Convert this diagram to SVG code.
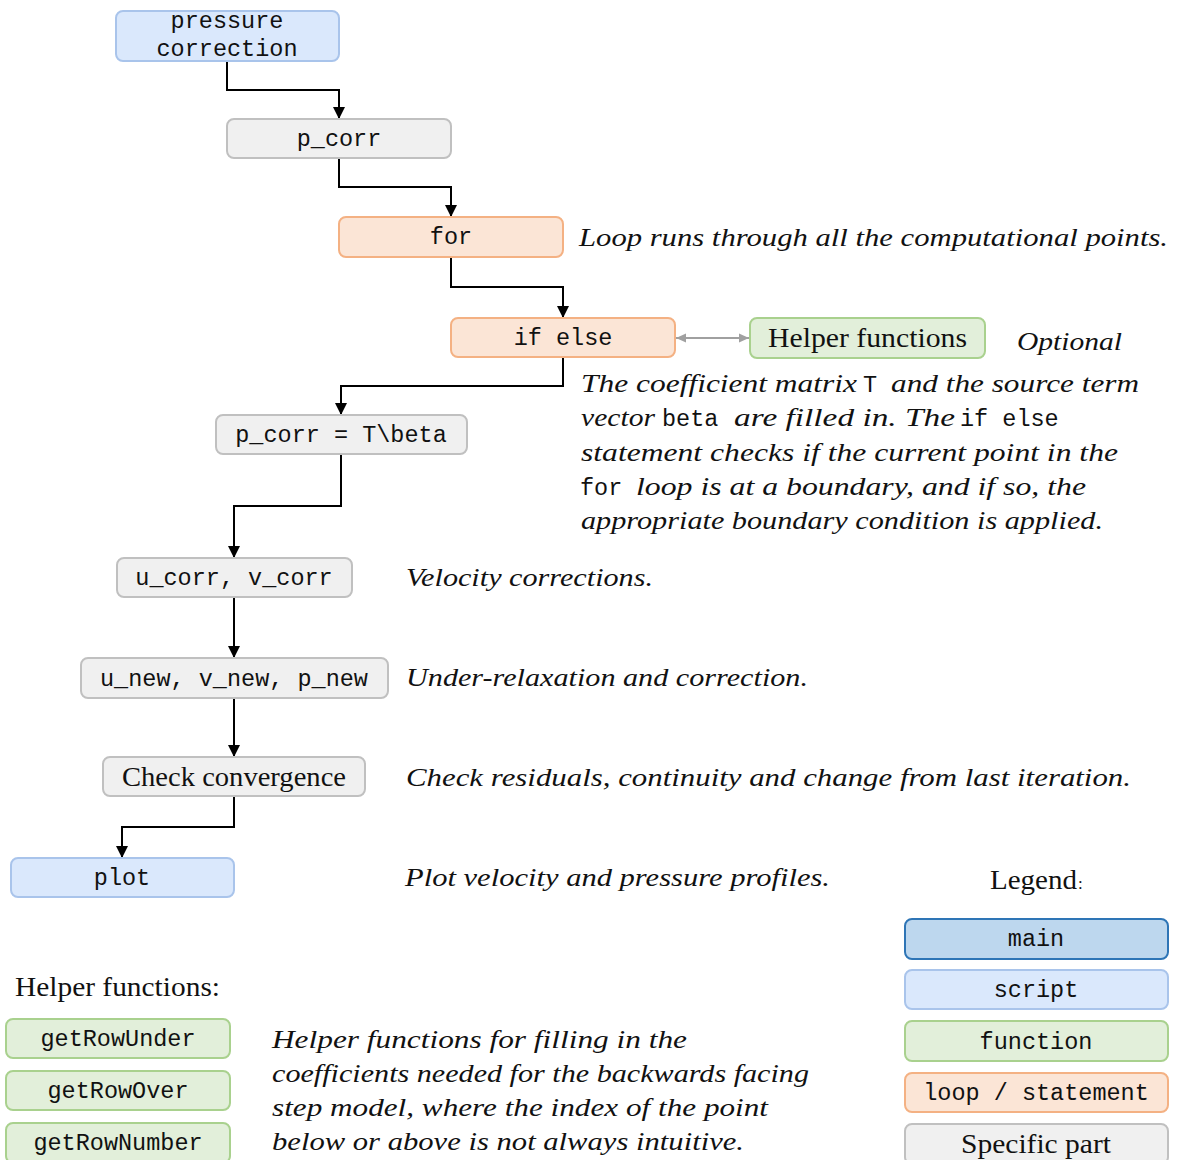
<svg xmlns="http://www.w3.org/2000/svg" width="1178" height="1160" viewBox="0 0 1178 1160">
<defs>
<marker id="ah" markerUnits="userSpaceOnUse" markerWidth="14" markerHeight="14" refX="12" refY="7" orient="auto"><path d="M0,1 L12,7 L0,13 z" fill="#000"/></marker>
<marker id="ag" markerUnits="userSpaceOnUse" markerWidth="12" markerHeight="12" refX="11" refY="6" orient="auto-start-reverse"><path d="M1,1.5 L11,6 L1,10.5 z" fill="#a0a0a0"/></marker>
<style>
.script{fill:#dae8fc;stroke:#a9c4eb;stroke-width:2}
.main{fill:#bdd7ee;stroke:#2e75b6;stroke-width:2}
.func{fill:#e2efda;stroke:#a9d18e;stroke-width:2}
.loop{fill:#fbe5d6;stroke:#f4b183;stroke-width:2}
.spec{fill:#f0f0f0;stroke:#c0c0c0;stroke-width:2}
.mono{font-family:"Liberation Mono","Courier New",monospace;font-size:23.5px;fill:#111}
.ser{font-family:"Liberation Serif","Times New Roman",serif;font-size:27px;fill:#111}
.it{font-family:"Liberation Serif","Times New Roman",serif;font-style:italic;font-size:26px;fill:#111}
.c{text-anchor:middle}
.conn{fill:none;stroke:#000;stroke-width:2;marker-end:url(#ah)}
</style>
</defs>
<rect width="1178" height="1160" fill="#fff"/>

<g id="connectors">
<path class="conn" d="M227,61 V90 H339 V119"/>
<path class="conn" d="M339,158 V187 H451 V217"/>
<path class="conn" d="M451,257 V287 H563 V318"/>
<path class="conn" d="M563,357 V386 H341 V415"/>
<path class="conn" d="M341,454 V506 H234 V558"/>
<path class="conn" d="M234,597 V658"/>
<path class="conn" d="M234,698 V757"/>
<path class="conn" d="M234,796 V827 H122 V858"/>
<path d="M676,338 H749" fill="none" stroke="#a0a0a0" stroke-width="2" marker-start="url(#ag)" marker-end="url(#ag)"/>
</g>

<g id="n-pressure-correction"><rect class="script" x="116" y="11" width="223" height="50" rx="7"/><text class="mono c" x="227" y="28">pressure</text><text class="mono c" x="227" y="56">correction</text></g>
<g id="n-p-corr"><rect class="spec" x="227" y="119" width="224" height="39" rx="7"/><text class="mono c" x="339" y="146">p_corr</text></g>
<g id="n-for"><rect class="loop" x="339" y="217" width="224" height="40" rx="7"/><text class="mono c" x="451" y="244">for</text></g>
<g id="n-if-else"><rect class="loop" x="451" y="318" width="224" height="39" rx="7"/><text class="mono c" x="563" y="345">if else</text></g>
<g id="n-helper"><rect class="func" x="750" y="318" width="235" height="40" rx="7"/><text class="ser" x="768" y="347" textLength="199" lengthAdjust="spacingAndGlyphs">Helper functions</text></g>
<g id="n-solve"><rect class="spec" x="216" y="415" width="251" height="39" rx="7"/><text class="mono c" x="341" y="442">p_corr = T\beta</text></g>
<g id="n-uv-corr"><rect class="spec" x="117" y="558" width="235" height="39" rx="7"/><text class="mono c" x="234" y="585">u_corr, v_corr</text></g>
<g id="n-new"><rect class="spec" x="81" y="658" width="307" height="40" rx="7"/><text class="mono c" x="234" y="686">u_new, v_new, p_new</text></g>
<g id="n-check"><rect class="spec" x="103" y="757" width="262" height="39" rx="7"/><text class="ser" x="122" y="786" textLength="224" lengthAdjust="spacingAndGlyphs">Check convergence</text></g>
<g id="n-plot"><rect class="script" x="11" y="858" width="223" height="39" rx="7"/><text class="mono c" x="122" y="885">plot</text></g>

<g id="annotations">
<text class="it" x="579" y="246" textLength="589" lengthAdjust="spacingAndGlyphs">Loop runs through all the computational points.</text>
<text class="it" x="1017" y="350" textLength="105" lengthAdjust="spacingAndGlyphs">Optional</text>
<text class="it" x="581" y="392" textLength="276" lengthAdjust="spacingAndGlyphs">The coefficient matrix</text>
<text class="mono" x="863" y="392">T</text>
<text class="it" x="891" y="392" textLength="248" lengthAdjust="spacingAndGlyphs">and the source term</text>
<text class="it" x="581" y="426" textLength="74" lengthAdjust="spacingAndGlyphs">vector</text>
<text class="mono" x="662" y="426">beta</text>
<text class="it" x="734" y="426" textLength="221" lengthAdjust="spacingAndGlyphs">are filled in. The</text>
<text class="mono" x="960" y="426">if else</text>
<text class="it" x="581" y="461" textLength="537" lengthAdjust="spacingAndGlyphs">statement checks if the current point in the</text>
<text class="mono" x="580" y="495">for</text>
<text class="it" x="636" y="495" textLength="450" lengthAdjust="spacingAndGlyphs">loop is at a boundary, and if so, the</text>
<text class="it" x="581" y="529" textLength="522" lengthAdjust="spacingAndGlyphs">appropriate boundary condition is applied.</text>
<text class="it" x="406" y="586" textLength="247" lengthAdjust="spacingAndGlyphs">Velocity corrections.</text>
<text class="it" x="406" y="686" textLength="402" lengthAdjust="spacingAndGlyphs">Under-relaxation and correction.</text>
<text class="it" x="406" y="786" textLength="725" lengthAdjust="spacingAndGlyphs">Check residuals, continuity and change from last iteration.</text>
<text class="it" x="405" y="886" textLength="425" lengthAdjust="spacingAndGlyphs">Plot velocity and pressure profiles.</text>
<text class="it" x="272" y="1048" textLength="415" lengthAdjust="spacingAndGlyphs">Helper functions for filling in the</text>
<text class="it" x="272" y="1082" textLength="537" lengthAdjust="spacingAndGlyphs">coefficients needed for the backwards facing</text>
<text class="it" x="272" y="1116" textLength="496" lengthAdjust="spacingAndGlyphs">step model, where the index of the point</text>
<text class="it" x="272" y="1150" textLength="472" lengthAdjust="spacingAndGlyphs">below or above is not always intuitive.</text>
</g>

<g id="helper-list">
<text class="ser" x="15" y="996" textLength="205" lengthAdjust="spacingAndGlyphs">Helper functions:</text>
<g id="h-getRowUnder"><rect class="func" x="6" y="1019" width="224" height="39" rx="7"/><text class="mono c" x="118" y="1046">getRowUnder</text></g>
<g id="h-getRowOver"><rect class="func" x="6" y="1071" width="224" height="39" rx="7"/><text class="mono c" x="118" y="1098">getRowOver</text></g>
<g id="h-getRowNumber"><rect class="func" x="6" y="1123" width="224" height="40" rx="7"/><text class="mono c" x="118" y="1150">getRowNumber</text></g>
</g>

<g id="legend">
<text class="ser" x="990" y="889" textLength="87" lengthAdjust="spacingAndGlyphs">Legend</text><text class="ser" x="1078" y="889" style="font-size:17px">:</text>
<g id="l-main"><rect class="main" x="905" y="919" width="263" height="40" rx="7"/><text class="mono c" x="1036" y="946">main</text></g>
<g id="l-script"><rect class="script" x="905" y="970" width="263" height="39" rx="7"/><text class="mono c" x="1036" y="997">script</text></g>
<g id="l-function"><rect class="func" x="905" y="1021" width="263" height="40" rx="7"/><text class="mono c" x="1036" y="1049">function</text></g>
<g id="l-loop"><rect class="loop" x="905" y="1073" width="263" height="39" rx="7"/><text class="mono c" x="1036" y="1100">loop / statement</text></g>
<g id="l-specific"><rect class="spec" x="905" y="1124" width="263" height="40" rx="7"/><text class="ser" x="961" y="1153" textLength="150" lengthAdjust="spacingAndGlyphs">Specific part</text></g>
</g>
</svg>
